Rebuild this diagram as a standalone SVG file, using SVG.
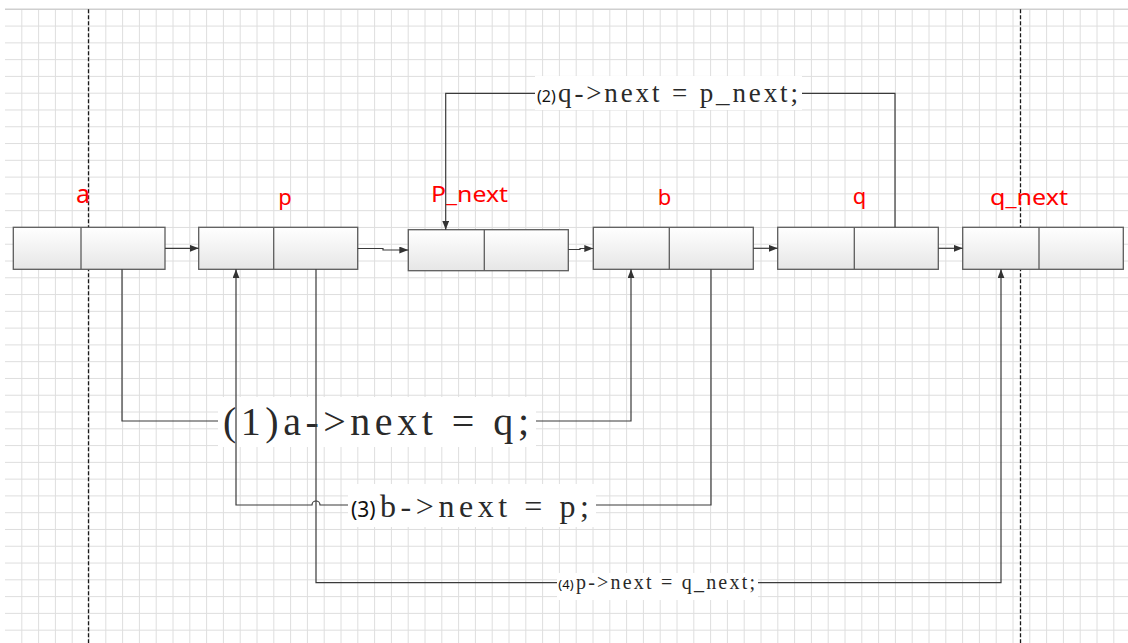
<svg xmlns="http://www.w3.org/2000/svg" width="1128" height="643" viewBox="0 0 1128 643">
<defs>
<linearGradient id="ng" x1="0" y1="0" x2="0" y2="1">
<stop offset="0" stop-color="#ffffff"/>
<stop offset="1" stop-color="#e6e6e6"/>
</linearGradient>
<marker id="ah" markerUnits="userSpaceOnUse" markerWidth="10" markerHeight="8" refX="9" refY="3.5" orient="auto">
<path d="M0,0 L9,3.5 L0,7 z" fill="#333"/>
</marker>
</defs>
<style>
.grid{stroke:#dedede;stroke-width:1;fill:none}
.dash{stroke:#1a1a1a;stroke-width:1.3;stroke-dasharray:4 2;fill:none}
.cell{fill:url(#ng);stroke:#5c5c5c;stroke-width:1.3}
.div{stroke:#5c5c5c;stroke-width:1.3}
.name{font-family:"Noto Sans","Liberation Sans",sans-serif;fill:#ff0000;font-size:22px;text-anchor:middle}
.conn{stroke:#3a3a3a;stroke-width:1.2;fill:none}
.arr{marker-end:url(#ah)}
.code{font-family:"Liberation Serif","DejaVu Serif",serif;fill:#2a2a2a}
.num{font-family:"Noto Sans","Liberation Sans",sans-serif;fill:#111}
.bg{fill:#ffffff}
</style>
<rect width="1128" height="643" fill="#ffffff"/>
<g id="grid">
<path class="grid" d="M21.8 9.3V643M38.6 9.3V643M55.4 9.3V643M72.2 9.3V643M89 9.3V643M105.8 9.3V643M122.6 9.3V643M139.4 9.3V643M156.2 9.3V643M173 9.3V643M189.8 9.3V643M206.6 9.3V643M223.4 9.3V643M240.2 9.3V643M257 9.3V643M273.8 9.3V643M290.6 9.3V643M307.4 9.3V643M324.2 9.3V643M341 9.3V643M357.8 9.3V643M374.6 9.3V643M391.4 9.3V643M408.2 9.3V643M425 9.3V643M441.8 9.3V643M458.6 9.3V643M475.4 9.3V643M492.2 9.3V643M509 9.3V643M525.8 9.3V643M542.6 9.3V643M559.4 9.3V643M576.2 9.3V643M593 9.3V643M609.8 9.3V643M626.6 9.3V643M643.4 9.3V643M660.2 9.3V643M677 9.3V643M693.8 9.3V643M710.6 9.3V643M727.4 9.3V643M744.2 9.3V643M761 9.3V643M777.8 9.3V643M794.6 9.3V643M811.4 9.3V643M828.2 9.3V643M845 9.3V643M861.8 9.3V643M878.6 9.3V643M895.4 9.3V643M912.2 9.3V643M929 9.3V643M945.8 9.3V643M962.6 9.3V643M979.4 9.3V643M996.2 9.3V643M1013 9.3V643M1029.8 9.3V643M1046.6 9.3V643M1063.4 9.3V643M1080.2 9.3V643M1097 9.3V643M1113.8 9.3V643
M5 26.08H1128M5 42.86H1128M5 59.64H1128M5 76.42H1128M5 93.2H1128M5 109.98H1128M5 126.76H1128M5 143.54H1128M5 160.32H1128M5 177.1H1128M5 193.88H1128M5 210.66H1128M5 227.44H1128M5 244.22H1128M5 261H1128M5 277.78H1128M5 294.56H1128M5 311.34H1128M5 328.12H1128M5 344.9H1128M5 361.68H1128M5 378.46H1128M5 395.24H1128M5 412.02H1128M5 428.8H1128M5 445.58H1128M5 462.36H1128M5 479.14H1128M5 495.92H1128M5 512.7H1128M5 529.48H1128M5 546.26H1128M5 563.04H1128M5 579.82H1128M5 596.6H1128M5 613.38H1128M5 630.16H1128"/>
<path d="M5 9.3H1128" stroke="#cfcfcf" stroke-width="1.5"/>
<path class="dash" d="M88.5 9.3V643M1020.5 9.3V643"/>
</g>

<g id="node-a">
<rect class="cell" x="13.3" y="227.3" width="151.7" height="42"/>
<path class="div" d="M81 227.3V269.3"/>
<text class="name" x="83" y="203" style="font-size:25px">a</text>
</g>
<g id="node-p">
<rect class="cell" x="198.7" y="227.3" width="159" height="42"/>
<path class="div" d="M273.7 227.3V269.3"/>
<text class="name" x="285" y="205">p</text>
</g>
<g id="node-P_next">
<rect class="cell" x="408.3" y="229.7" width="160" height="41"/>
<path class="div" d="M484.3 229.7V270.7"/>
<text class="name" x="469.5" y="202.3" textLength="77" lengthAdjust="spacingAndGlyphs">P_next</text>
</g>
<g id="node-b">
<rect class="cell" x="593.3" y="227.3" width="160" height="42"/>
<path class="div" d="M669.3 227.3V269.3"/>
<text class="name" x="664.5" y="205">b</text>
</g>
<g id="node-q">
<rect class="cell" x="777.7" y="227.3" width="160.6" height="42"/>
<path class="div" d="M854.3 227.3V269.3"/>
<text class="name" x="859.5" y="204">q</text>
</g>
<g id="node-q_next">
<rect class="cell" x="962.7" y="227.3" width="160.6" height="42"/>
<path class="div" d="M1039 227.3V269.3"/>
<text class="name" x="1029" y="205" textLength="78" lengthAdjust="spacingAndGlyphs">q_next</text>
</g>

<g id="labels">
<rect class="bg" x="218" y="397" width="318" height="50"/>
<text class="code" x="223" y="435" font-size="40" textLength="306" lengthAdjust="spacing">(1)a-&gt;next = q;</text>
<rect class="bg" x="535" y="76" width="267" height="34"/>
<text class="num" x="537" y="102" font-size="16">(2)</text>
<text class="code" x="558" y="102" font-size="27" textLength="240" lengthAdjust="spacing">q-&gt;next = p_next;</text>
<rect class="bg" x="348" y="484" width="248" height="43"/>
<text class="num" x="351" y="517" font-size="21">(3)</text>
<text class="code" x="380" y="517" font-size="32" textLength="209" lengthAdjust="spacing">b-&gt;next = p;</text>
<rect class="bg" x="557" y="573" width="201" height="27"/>
<text class="num" x="558.3" y="589" font-size="13">(4)</text>
<text class="code" x="576" y="589" font-size="20" textLength="179" lengthAdjust="spacing">p-&gt;next = q_next;</text>
</g>

<g id="connectors">
<path class="conn arr" d="M165 248.3H198.7"/>
<path class="conn arr" d="M357.7 248.5H383V250H408.3"/>
<path class="conn arr" d="M568.3 249.5H580V248.5H593.3"/>
<path class="conn arr" d="M753.3 248.3H777.7"/>
<path class="conn arr" d="M938.3 248.3H962.7"/>
<path class="conn" d="M895 227.3V93.3H802"/>
<path class="conn arr" d="M535 93.3H445.7V229.7"/>
<path class="conn" d="M122 269.3V421H218"/>
<path class="conn arr" d="M536 421H631V269.3"/>
<path class="conn" d="M711 269.3V505H596"/>
<path class="conn arr" d="M348 505H320A4 4 0 0 0 312 505H236V269.3"/>
<path class="conn" d="M316 269.3V582.7H557"/>
<path class="conn arr" d="M758 582.7H1001V269.3"/>
</g>
</svg>
